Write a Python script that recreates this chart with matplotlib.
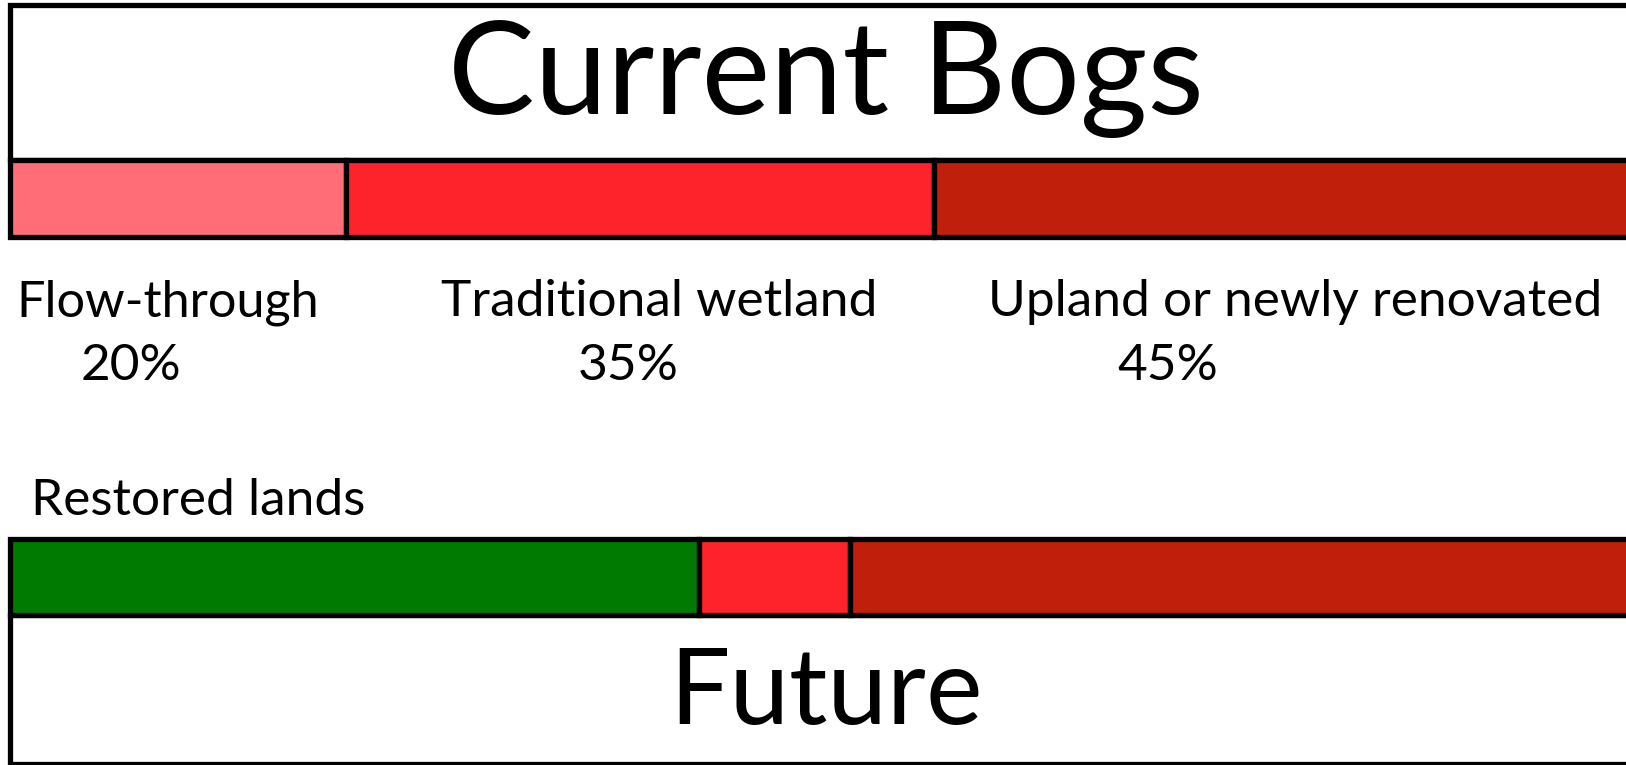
import matplotlib
matplotlib.use("Agg")
import matplotlib.pyplot as plt
import numpy as np

# Share of current bogs by type (percent)
current_labels = ["Flow-through", "Traditional wetland", "Upland or newly renovated"]
current_values = [20, 35, 45]
current_colors = ["#FF6E76", "#FE232B", "#C01F0C"]

# Future composition (percent)
future_labels = ["Restored lands", "Traditional wetland", "Upland or newly renovated"]
future_values = [41, 9, 50]
future_colors = ["#007A00", "#FE232B", "#C01F0C"]

W, H, DPI = 1626, 765, 100
FONT = "Lato"
LW = 3.8

fig = plt.figure(figsize=(W / DPI, H / DPI), dpi=DPI)
ax = fig.add_axes([0, 0, 1, 1])
# x in percent, y in pixel rows from the top
px_per_pct = 16.8
x0 = 10
ax.set_xlim(-x0 / px_per_pct, (W - x0) / px_per_pct)
ax.set_ylim(H, 0)
ax.axis("off")

def stacked(y_top, y_bot, values, colors):
    left = np.concatenate([[0], np.cumsum(values)[:-1]])
    ax.barh((y_top + y_bot) / 2, values, left=left, height=y_bot - y_top,
            color=colors, edgecolor="black", linewidth=LW, zorder=2)

def frame(y_top, y_bot, values):
    ax.barh((y_top + y_bot) / 2, sum(values), left=0, height=y_bot - y_top,
            color="white", edgecolor="black", linewidth=LW, zorder=1)

frame(5, 159.5, current_values)
stacked(159.5, 236.5, current_values, current_colors)
stacked(538.5, 615, future_values, future_colors)
frame(615, 764, future_values)

def ftext(x, y, s, size, ha="left"):
    fig.text(x / W, 1 - y / H, s, fontsize=size, ha=ha, va="baseline",
             family=FONT, color="black")

ftext(826, 114, "Current Bogs", 93.5, ha="center")
ftext(826, 724, "Future", 77, ha="center")

label_pos = [(16, 81), (441, 578), (988, 1117)]
label_sizes = [36.3, 37, 37]
for (xl, xp), name, val, fs in zip(label_pos, current_labels, current_values, label_sizes):
    ftext(xl, 316, name, fs)
    ftext(xp, 380, f"{val}%", 37)

ftext(31, 515, future_labels[0], 37)

fig.savefig("out.png", dpi=DPI)
